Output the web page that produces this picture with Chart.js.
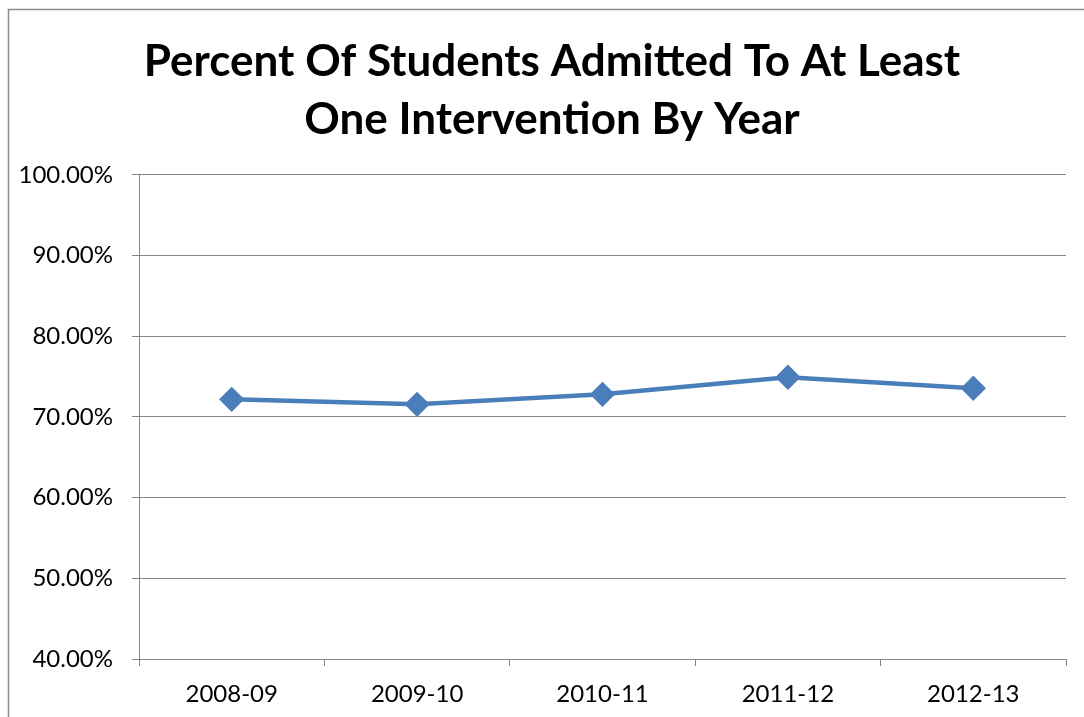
<!DOCTYPE html>
<html>
<head>
<meta charset="utf-8">
<script src="https://cdn.jsdelivr.net/npm/chart.js@4"></script>
<style>
html,body{margin:0;padding:0;background:#fff;}
#wrap{position:relative;width:1084px;height:717px;}
</style>
</head>
<body>
<div id="wrap"><canvas id="c" width="1084" height="717"></canvas></div>
<script>
const titleLines = ["Percent Of Students Admitted To At Least", "One Intervention By Year"];
const categories = ["2008-09", "2009-10", "2010-11", "2011-12", "2012-13"];
const percentAdmitted = [72.19, 71.57, 72.81, 74.92, 73.56];
const yTicks = [40, 50, 60, 70, 80, 90, 100];

const FONT = "Lato, 'Open Sans', sans-serif";
const GRID = "#878787";

const frame = {
  id: 'frame',
  afterLayout(chart) {
    // let the y tick labels use the space left of the layout padding
    chart.scales.y.left = 0;
  },
  beforeDraw(chart) {
    const ctx = chart.ctx;
    ctx.save();
    ctx.fillStyle = '#fff';
    ctx.fillRect(0, 0, chart.width, chart.height);
    ctx.strokeStyle = '#8c8c8c';
    ctx.lineWidth = 1.5;
    ctx.strokeRect(8.5, 9.5, 1200, 900);
    ctx.restore();
  }
};

new Chart(document.getElementById('c'), {
  type: 'line',
  data: {
    labels: categories,
    datasets: [{
      data: percentAdmitted,
      borderColor: '#4a7ebb',
      backgroundColor: '#4a7ebb',
      borderWidth: 4.5,
      pointStyle: 'rectRot',
      pointRadius: 9.5,
      pointHoverRadius: 9.5,
      tension: 0,
      fill: false
    }]
  },
  options: {
    responsive: false,
    animation: false,
    devicePixelRatio: 1,
    layout: { padding: { left: 38, right: 18, top: 0, bottom: 0 } },
    plugins: {
      legend: { display: false },
      tooltip: { enabled: false },
      title: {
        display: true,
        text: titleLines,
        color: '#000',
        font: { family: FONT, size: 44, weight: 'bold', lineHeight: 1.318 },
        padding: { top: 33, bottom: 26 }
      }
    },
    scales: {
      x: {
        offset: true,
        afterFit(scale) { scale.height = 58; },
        grid: { display: true, drawOnChartArea: false, drawTicks: true, tickLength: 7, offset: true, color: GRID },
        border: { display: true, color: GRID, width: 1 },
        ticks: { color: '#000', font: { family: FONT, size: 24 }, padding: 14, maxRotation: 0 }
      },
      y: {
        min: 40, max: 100,
        afterBuildTicks(scale) { scale.ticks = yTicks.map(v => ({ value: v })); },
        afterFit(scale) { scale.width = 101; },
        grid: { color: GRID, tickLength: 7, drawTicks: true },
        border: { display: true, color: GRID, width: 1 },
        ticks: {
          color: '#000', font: { family: FONT, size: 24 }, padding: 19,
          callback: v => v.toFixed(2) + '%'
        }
      }
    }
  },
  plugins: [frame]
});
</script>
</body>
</html>
